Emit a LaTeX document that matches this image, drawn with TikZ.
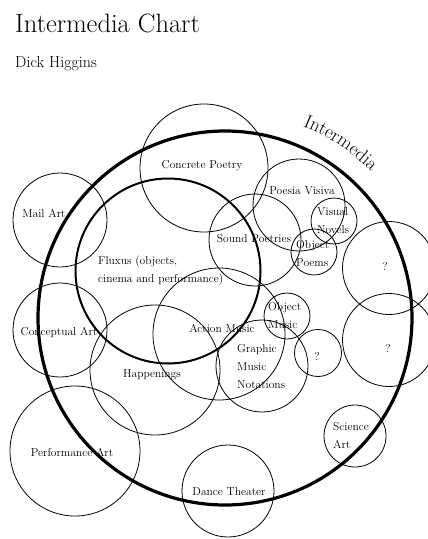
\documentclass[tikz,border=0pt]{standalone}
\usepackage{tikz}
\usetikzlibrary{decorations.text}

\tikzset{
	ring/.style={circle, draw, inner sep=0pt, line width=0.8pt, minimum size=#1},
	lbl/.style={inner sep=0pt, anchor=base, font=\fontsize{11.5}{18}\selectfont},
	lblleft/.style={lbl, anchor=base west, align=left},
}

\begin{document}
\begin{tikzpicture}[x=1pt, y=1pt]
	\useasboundingbox (0,0) rectangle (428,-539);
	\node[anchor=base west, inner sep=0pt, font=\fontsize{26.5}{26}\selectfont] (title) at (15,-32) {Intermedia Chart};
	\node[anchor=base west, inner sep=0pt, font=\fontsize{16}{16}\selectfont] (author) at (15,-67) {Dick Higgins};
	% the big field and Fluxus
	\node[ring=374pt, line width=3.2pt] (inter) at (225,-318) {};
	\node[ring=185pt, line width=2pt] (fluxus) at (168,-271) {};
	\path[decorate, decoration={text along path, text align=center,
		text={|\fontsize{19}{19}\selectfont|Intermedia}}]
		(inter.center) ++(80:207) arc[start angle=80, end angle=33, radius=207];
	% media circles
	\node[ring=128pt] (concrete) at (204,-168) {};
	\node[ring=94pt] (mail) at (60,-220) {};
	\node[ring=94pt] (concept) at (60,-330) {};
	\node[ring=130pt] (perf) at (75,-451) {};
	\node[ring=130pt] (happen) at (155,-370) {};
	\node[ring=132pt] (action) at (219,-334) {};
	\node[ring=92pt] (graphic) at (262,-366) {};
	\node[ring=92pt] (sound) at (255,-240) {};
	\node[ring=92pt] (poesia) at (299,-205) {};
	\node[ring=46pt] (visual) at (334,-221) {};
	\node[ring=46pt] (objpoem) at (314,-252) {};
	\node[ring=93pt] (qupper) at (389,-268) {};
	\node[ring=93pt] (qlower) at (389,-340) {};
	\node[ring=46pt] (objmusic) at (287,-316) {};
	\node[ring=47pt] (qsmall) at (318,-353) {};
	\node[ring=62pt] (science) at (355,-436) {};
	\node[ring=92pt] (dance) at (228,-491) {};
	% labels (multi-line ones sit on their last line)
	\node[lbl] (concrete-t) at (202,-168) {Concrete Poetry};
	\node[lbl] (mail-t) at (44,-217) {Mail Art};
	\node[lblleft] (fluxus-t) at (98,-282) {Fluxus (objects,\\cinema and performance)};
	\node[lbl] (sound-t) at (254,-242) {Sound Poetries};
	\node[lbl] (poesia-t) at (302,-194) {Poesia Visiva};
	\node[lblleft] (visual-t) at (317,-233) {Visual\\Novels};
	\node[lblleft] (objpoem-t) at (296,-266) {Object\\Poems};
	\node[lbl] (qupper-t) at (385,-270) {?};
	\node[lbl] (qlower-t) at (388,-352) {?};
	\node[lbl] (qsmall-t) at (317,-360) {?};
	\node[lblleft] (objmusic-t) at (268,-328) {Object\\Music};
	\node[lbl] (action-t) at (222,-332) {Action Music};
	\node[lblleft] (graphic-t) at (237,-388) {Graphic\\Music\\Notations};
	\node[lbl] (happen-t) at (152,-377) {Happenings};
	\node[lbl] (concept-t) at (59,-335) {Conceptual Art};
	\node[lbl] (perf-t) at (72,-456) {Performance Art};
	\node[lblleft] (science-t) at (333,-448) {Science\\Art};
	\node[lbl] (dance-t) at (229,-495) {Dance Theater};
\end{tikzpicture}
\end{document}
